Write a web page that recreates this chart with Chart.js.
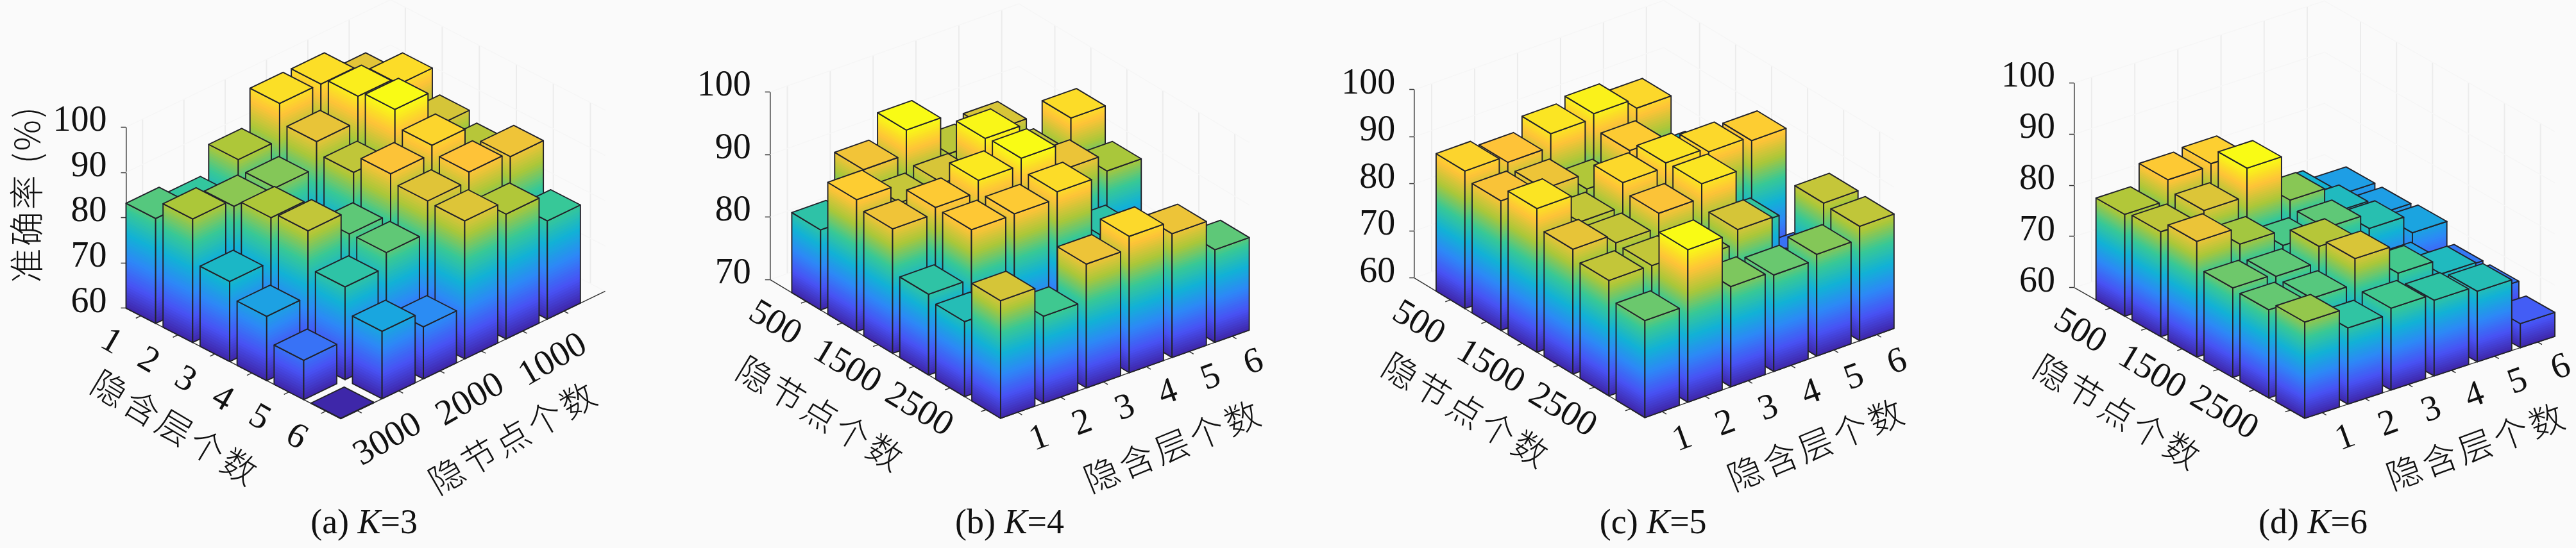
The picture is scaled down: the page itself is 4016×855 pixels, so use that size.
<!DOCTYPE html>
<html lang="zh">
<head>
<meta charset="utf-8">
<style>
html,body{margin:0;padding:0;background:#fafafa;width:4016px;height:855px;overflow:hidden}
.p{position:absolute;top:0;height:855px;width:1000px}
canvas{display:block}
</style>
<script src="https://cdn.jsdelivr.net/npm/chart.js@4"></script>
</head>
<body>
<div class="p" style="left:0"><canvas id="a" width="1000" height="855"></canvas></div>
<div class="p" style="left:1000px"><canvas id="b" width="1000" height="855"></canvas></div>
<div class="p" style="left:2000px"><canvas id="c" width="1000" height="855"></canvas></div>
<div class="p" style="left:3016px"><canvas id="d" width="1000" height="855"></canvas></div>
<script>
// ---------- data: accuracy (%), one row per hidden-layer count, one column per hidden-node count ----------
const hiddenLayers = [1, 2, 3, 4, 5, 6];
const hiddenNodes = [500, 1000, 1500, 2000, 2500, 3000];
const nodeTickLabelsA = ['', '1000', '', '2000', '', '3000'];
const nodeTickLabelsB = ['500', '', '1500', '', '2500', ''];
const K3 = [
  [90.9, 95.3, 95.4, 87.4, 81.2, 83.2],
  [95.1, 96.8, 91.2, 85.4, 85.7, 87.3],
  [90.0, 98.1, 88.6, 78.0, 87.4, 77.7],
  [88.0, 94.4, 92.5, 83.6, 88.7, 74.2],
  [91.7, 92.7, 90.7, 83.7, 80.5, 68.7],
  [81.7, 87.6, 90.5, 71.5, 74.9, 60.1]
];
const K4 = [
  [82.8, 91.1, 89.9, 82.9, 82.0, 88.8],
  [90.0, 88.2, 90.9, 90.8, 80.0, 83.9],
  [93.9, 88.9, 92.8, 90.9, 76.0, 89.8],
  [87.7, 93.6, 93.9, 92.0, 80.0, 91.8],
  [88.9, 88.0, 89.7, 82.7, 78.0, 89.8],
  [80.0, 92.0, 87.0, 76.0, 78.0, 84.8]
];
const K5 = [
  [89.2, 87.5, 90.5, 86.5, 84.5, 80.6],
  [87.8, 86.8, 84.4, 84.6, 84.4, 92.4],
  [90.6, 83.5, 89.5, 87.6, 82.6, 81.3],
  [91.6, 88.4, 90.4, 90.6, 85.5, 80.5],
  [89.5, 80.0, 89.5, 78.0, 72.0, 81.6],
  [75.0, 76.0, 88.6, 67.4, 84.6, 84.3]
];
const K6 = [
  [79.9, 80.5, 82.6, 77.5, 77.2, 78.8],
  [83.9, 81.9, 79.3, 77.0, 76.7, 74.9],
  [84.3, 87.4, 76.3, 80.1, 81.7, 76.0],
  [75.0, 78.4, 77.0, 73.0, 76.1, 74.8],
  [72.0, 73.2, 74.1, 70.0, 73.2, 73.8],
  [70.0, 70.0, 70.5, 66.8, 66.8, 64.7]
];
const captions = [['(a) ', 'K', '=3'], ['(b) ', 'K', '=4'], ['(c) ', 'K', '=5'], ['(d) ', 'K', '=6']];
const layerName = '隐含层个数', nodeName = '隐节点个数', accName = '准确率 (%)';

// ---------- view geometry (in units of a 1568-square crop of each 1000x855 panel) ----------
const SX = 1000 / 1568, SY = 855 / 1568;
const views = [
  {id:'a', data:K3, zmin:60, uIsLayer:true,  O:[900.2,484.4], A:[90.5,54.5], B:[-101,57],  unit:12.95,
   uLim:[0.6,6.4], vLim:[0,6.4], wallU:0.6, wallV:0, leftOff:[-73,75], rightOff:[75,84],
   leftRot:30, rightRot:-30, uName:layerName, vName:nodeName, uPos:[430,1225], vPos:[1255,1250], vRot:-30, cap:[890,1500], yTitle:[65,555]},
  {id:'b', data:K4, zmin:70, uIsLayer:false, O:[251.9,826.3], A:[88,62], B:[104.8,-43.5], unit:17.9,
   uLim:[0,6.4], vLim:[0.6,6.4], wallU:0, wallV:6.4, leftOff:[-77,64], rightOff:[53,76],
   leftRot:31, rightRot:-20, uName:nodeName, vName:layerName, uPos:[440,1185], vPos:[1300,1275], vRot:-22, cap:[900,1500]},
  {id:'c', data:K5, zmin:60, uIsLayer:false, O:[258.8,822], A:[88,62.4], B:[105,-44], unit:13.475,
   uLim:[0,6.4], vLim:[0.6,6.4], wallU:0, wallV:6.4, leftOff:[-79,68], rightOff:[50,80],
   leftRot:31, rightRot:-20, uName:nodeName, vName:layerName, uPos:[450,1175], vPos:[1305,1270], vRot:-22, cap:[905,1500]},
  {id:'d', data:K6, zmin:60, uIsLayer:false, O:[278.6,847.4], A:[88,58.4], B:[105.4,-40.4], unit:14.65,
   uLim:[0,6.4], vLim:[0.6,6.4], wallU:0, wallV:6.4, leftOff:[-75,68], rightOff:[57,74],
   leftRot:31, rightRot:-20, uName:nodeName, vName:layerName, uPos:[450,1180], vPos:[1325,1275], vRot:-20, cap:[925,1500]}
];

const parulaStops = [[62,38,168],[72,82,244],[46,135,247],[18,177,214],[55,200,151],[171,199,57],[254,195,56],[249,251,21]];
function parula(t){
  t = Math.max(0, Math.min(1, t)) * (parulaStops.length - 1);
  const i = Math.min(parulaStops.length - 2, Math.floor(t)), f = t - i;
  const a = parulaStops[i], b = parulaStops[i + 1];
  return `rgb(${a.map((c, k) => Math.round(c + (b[k] - c) * f)).join(',')})`;
}
const SERIF = "'Liberation Serif','DejaVu Serif',serif";
const CJK = "300 54px 'Noto Sans CJK SC'";
const BAR_HALF = 0.4, LEVELS = 64, EDGE = '#22222a', EDGE_W = 1.9;

function makeChart(view, index){
  const floorX = (u, v) => (view.O[0] + u * view.A[0] + v * view.B[0]) * SX;
  const floorY = (u, v) => (view.O[1] + u * view.A[1] + v * view.B[1]) * SY;
  const leftU = view.uLim[0], leftV = view.uIsLayer ? view.vLim[1] : view.vLim[0];
  const axisX = floorX(leftU, leftV), axisY = floorY(leftU, leftV);
  const pxPerUnit = view.unit * SY;
  const topY = axisY - (100 - view.zmin) * pxPerUnit;
  const zmax = Math.max(...view.data.flat());
  const W = 1000, H = 855;
  const valueX = (u, v) => floorX(u, v) - axisX;
  const shiftZ = (u, v) => (floorY(u, v) - axisY) / pxPerUnit;

  const datasets = view.data.map((row, l) => ({
    label: '隐含层 ' + hiddenLayers[l],
    data: row.map((z, n) => {
      const u = view.uIsLayer ? hiddenLayers[l] : n + 1;
      const v = view.uIsLayer ? n + 1 : hiddenLayers[l];
      return {x: valueX(u, v), y: z, u, v};
    }),
    pointRadius: 0, showLine: false
  }));

  const bar3d = {
    id: 'bar3d',
    afterDatasetsDraw(chart){
      const ctx = chart.ctx, xs = chart.scales.x, ys = chart.scales.y;
      const P = (u, v, z) => [xs.getPixelForValue(valueX(u, v)), ys.getPixelForValue(z - shiftZ(u, v))];
      const poly = pts => { ctx.beginPath(); pts.forEach((p, i) => i ? ctx.lineTo(p[0], p[1]) : ctx.moveTo(p[0], p[1])); ctx.closePath(); };
      const line = (a, b) => { ctx.beginPath(); ctx.moveTo(a[0], a[1]); ctx.lineTo(b[0], b[1]); ctx.stroke(); };
      ctx.save();
      ctx.lineJoin = 'round';
      // back walls
      const [u0, u1] = view.uLim, [v0, v1] = view.vLim;
      ctx.strokeStyle = '#ececec'; ctx.lineWidth = 2;
      hiddenLayers.forEach((_, k) => {
        const t = k + 1;
        line(P(view.wallU, t, view.zmin), P(view.wallU, t, 100));
        line(P(t, view.wallV, view.zmin), P(t, view.wallV, 100));
      });
      ctx.strokeStyle = '#f6f6f6'; ctx.lineWidth = 1.5;
      const leftCornerV = view.wallV === v0 ? v1 : v0;
      for (let z = view.zmin; z <= 100; z += 10) {
        line(P(view.wallU, leftCornerV, z), P(view.wallU, view.wallV, z));
        line(P(view.wallU, view.wallV, z), P(u1, view.wallV, z));
      }
      // floor axis lines and ticks
      const fv = view.uIsLayer ? v1 : v0;
      ctx.strokeStyle = '#333'; ctx.lineWidth = 1.5;
      line(P(u0, fv, view.zmin), P(u1, fv, view.zmin));
      line(P(u1, v0, view.zmin), P(u1, v1, view.zmin));
      const outSign = view.uIsLayer ? 1 : -1;
      hiddenLayers.forEach((_, k) => {
        const t = k + 1;
        line(P(t, fv, view.zmin), P(t, fv + outSign * 0.12, view.zmin));
        line(P(u1, t, view.zmin), P(u1 + 0.12, t, view.zmin));
      });
      // bars, back to front
      const bars = chart.data.datasets.flatMap(d => d.data).slice()
        .sort((a, b) => floorY(a.u, a.v) - floorY(b.u, b.v));
      const t = z => (z - view.zmin) / (zmax - view.zmin);
      const dz = (zmax - view.zmin) / LEVELS;
      bars.forEach(b => {
        const c = [[b.u - BAR_HALF, b.v - BAR_HALF], [b.u + BAR_HALF, b.v - BAR_HALF], [b.u + BAR_HALF, b.v + BAR_HALF], [b.u - BAR_HALF, b.v + BAR_HALF]];
        const by = fn => c.slice().sort((p, q) => fn(p) - fn(q));
        const front = by(p => -floorY(p[0], p[1]))[0];
        const left = by(p => floorX(p[0], p[1]))[0];
        const right = by(p => -floorX(p[0], p[1]))[0];
        const top = b.y;
        [[left, front], [front, right]].forEach(([p, q]) => {
          for (let z = view.zmin; z < top; z += dz) {
            ctx.fillStyle = parula(t(z + dz / 2));
            poly([P(p[0], p[1], z), P(q[0], q[1], z), P(q[0], q[1], top), P(p[0], p[1], top)]);
            ctx.fill();
          }
          ctx.strokeStyle = EDGE; ctx.lineWidth = EDGE_W;
          poly([P(p[0], p[1], view.zmin), P(q[0], q[1], view.zmin), P(q[0], q[1], top), P(p[0], p[1], top)]);
          ctx.stroke();
        });
        ctx.fillStyle = parula(t(top));
        poly(c.map(p => P(p[0], p[1], top)));
        ctx.fill();
        ctx.strokeStyle = EDGE; ctx.lineWidth = EDGE_W;
        ctx.stroke();
      });
      // rotated text
      const text = (s, x, y, deg, font, sp) => {
        ctx.save();
        ctx.translate(x, y); ctx.rotate(deg * Math.PI / 180);
        ctx.font = font; ctx.fillStyle = '#111'; ctx.textAlign = 'center'; ctx.textBaseline = 'middle';
        ctx.letterSpacing = (sp || 0) + 'px';
        ctx.fillText(s, 0, 0);
        ctx.restore();
      };
      const tickFont = '56px ' + SERIF;
      const uLabels = view.uIsLayer ? hiddenLayers.map(String) : nodeTickLabelsB;
      const vLabels = view.uIsLayer ? nodeTickLabelsA : hiddenLayers.map(String);
      uLabels.forEach((s, k) => {
        if (!s) return;
        const p = P(k + 1, fv, view.zmin);
        text(s, p[0] + view.leftOff[0] * SX, p[1] + view.leftOff[1] * SY, view.leftRot, tickFont);
      });
      vLabels.forEach((s, k) => {
        if (!s) return;
        const p = P(u1, k + 1, view.zmin);
        text(s, p[0] + view.rightOff[0] * SX, p[1] + view.rightOff[1] * SY, view.rightRot, tickFont);
      });
      text(view.uName, view.uPos[0] * SX, view.uPos[1] * SY, 31, CJK, 5);
      text(view.vName, view.vPos[0] * SX, view.vPos[1] * SY, view.vRot, CJK, 5);
      if (view.yTitle) text(accName, view.yTitle[0] * SX, view.yTitle[1] * SY, -90, CJK, 3);
      // caption
      const cap = captions[index];
      const fonts = ['54px ' + SERIF, 'italic 54px ' + SERIF, '54px ' + SERIF];
      ctx.fillStyle = '#111'; ctx.textBaseline = 'middle'; ctx.textAlign = 'left';
      const widths = cap.map((s, i) => { ctx.font = fonts[i]; return ctx.measureText(s).width; });
      let cx = view.cap[0] * SX - widths.reduce((a, b) => a + b, 0) / 2;
      cap.forEach((s, i) => { ctx.font = fonts[i]; ctx.fillText(s, cx, view.cap[1] * SY); cx += widths[i]; });
      ctx.restore();
    }
  };

  return new Chart(document.getElementById(view.id), {
    type: 'scatter',
    data: {datasets},
    plugins: [bar3d],
    options: {
      responsive: false, animation: false, devicePixelRatio: 1,
      layout: {padding: {top: topY, bottom: H - axisY, left: 0, right: 0}},
      plugins: {legend: {display: false}, tooltip: {enabled: false}, title: {display: false}},
      scales: {
        x: {type: 'linear', display: false, min: 0, max: W - axisX},
        y: {
          type: 'linear', min: view.zmin, max: 100,
          afterFit(s){ s.width = axisX; },
          border: {display: true, color: '#333', width: 1.5},
          grid: {drawOnChartArea: false, drawTicks: true, tickLength: 8, tickColor: '#333', tickWidth: 1.5},
          ticks: {stepSize: 10, padding: 22, labelOffset: -9, color: '#111', font: {family: SERIF, size: 56}}
        }
      }
    }
  });
}
views.forEach(makeChart);
</script>
</body>
</html>
